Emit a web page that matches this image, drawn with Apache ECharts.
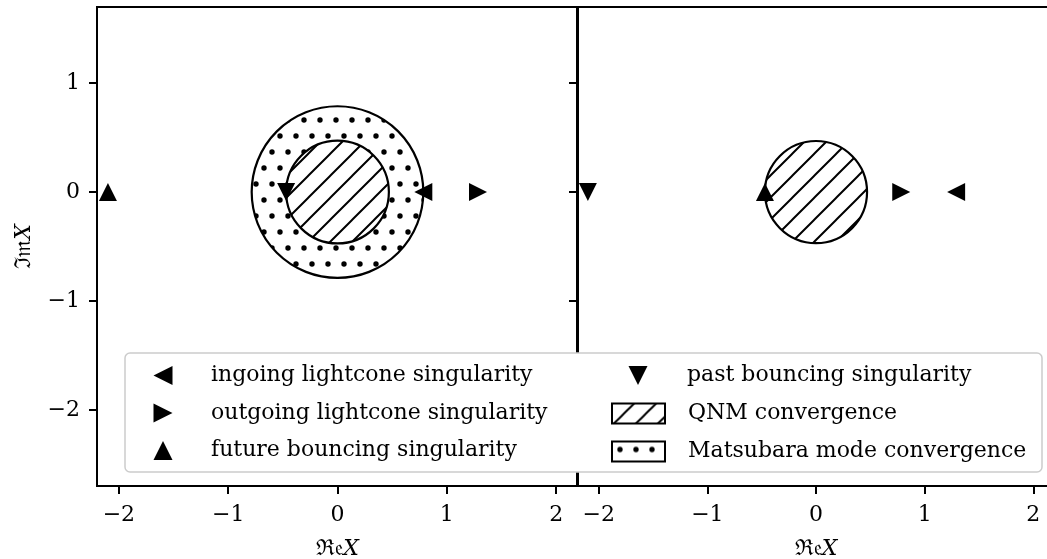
<!DOCTYPE html>
<html><head><meta charset="utf-8">
<script src="https://cdn.jsdelivr.net/npm/echarts@6/dist/echarts.min.js"></script>
<style>html,body{margin:0;padding:0;background:#fff}#c{width:1047px;height:559px}</style>
</head><body><div id="c"></div>
<script>
// ---- data ----
const xTicks = [-2, -1, 0, 1, 2];
const yTicks = [-2, -1, 0, 1];
const xRange = [-2.2, 2.2];
const yRange = [-2.7, 1.7];
// marker positions on the real axis (imaginary part 0): [left panel, right panel]
const ingoingX = [0.785, 1.29];
const outgoingX = [1.285, 0.785];
const futureX = [-2.1, -0.47];
const pastX = [-0.47, -2.1];
const markerY = [0, 0];
// convergence discs: radius, centered at origin: [left panel, right panel]
const qnmR = [0.47, 0.47];
const matsubaraR = [0.785]; // left panel only

const nIn = 'ingoing lightcone singularity';
const nOut = 'outgoing lightcone singularity';
const nFut = 'future bouncing singularity';
const nPast = 'past bouncing singularity';
const nQNM = 'QNM convergence';
const nMat = 'Matsubara mode convergence';

// ---- patterns ----
function hatchPattern() {
  const s = 22, c = document.createElement('canvas');
  c.width = s; c.height = s;
  const g = c.getContext('2d');
  g.fillStyle = '#fff'; g.fillRect(0, 0, s, s);
  g.strokeStyle = '#000'; g.lineWidth = 2;
  g.beginPath();
  g.moveTo(-2, 2); g.lineTo(2, -2);
  g.moveTo(0, s); g.lineTo(s, 0);
  g.moveTo(s - 2, s + 2); g.lineTo(s + 2, s - 2);
  g.stroke();
  return { image: c, repeat: 'repeat' };
}
function dotPattern() {
  const w = 16, h = 32, c = document.createElement('canvas');
  c.width = w; c.height = h;
  const g = c.getContext('2d');
  g.fillStyle = '#fff'; g.fillRect(0, 0, w, h);
  g.fillStyle = '#000';
  [[8, 8], [0, 24], [16, 24]].forEach(p => { g.beginPath(); g.arc(p[0], p[1], 2.7, 0, Math.PI * 2); g.fill(); });
  return { image: c, repeat: 'repeat' };
}
const hatch = hatchPattern();
const dots = dotPattern();

const FONT = 'DejaVu Serif';
const FS = 22;
const fmt = v => v < 0 ? '\u2212' + (-v) : String(v);

function disc(pattern) {
  return function (params, api) {
    const c = api.coord([api.value(0), api.value(1)]);
    const r = api.size([api.value(2), 0])[0];
    return { type: 'circle', shape: { cx: c[0], cy: c[1], r: r },
      style: { fill: pattern, stroke: '#000', lineWidth: 2.2 } };
  };
}
function tri(name, xs, panel, rot) {
  return { type: 'scatter', name: name, xAxisIndex: panel, yAxisIndex: panel,
    symbol: 'triangle', symbolSize: 18, symbolRotate: rot, z: 5,
    itemStyle: { color: '#000', opacity: 1 }, data: [[xs[panel], markerY[panel]]] };
}

const nameRich = { a: { fontFamily: FONT, fontSize: FS, color: '#000' }, b: { fontFamily: FONT, fontSize: FS, fontStyle: 'italic', color: '#000' } };
function xAxis(gi) {
  return { type: 'value', gridIndex: gi, min: xRange[0], max: xRange[1],
    name: '{a|\u211C\uD835\uDD22}{b|X}', nameLocation: 'middle', nameGap: 52,
    nameTextStyle: { rich: nameRich },
    axisLine: { show: false, onZero: false }, splitLine: { show: false },
    axisTick: { customValues: xTicks, length: 8, lineStyle: { color: '#000', width: 2 } },
    axisLabel: { customValues: xTicks, formatter: fmt, margin: 18, color: '#000', fontFamily: FONT, fontSize: FS } };
}
function yAxis(gi, labels) {
  const a = { type: 'value', gridIndex: gi, min: yRange[0], max: yRange[1],
    axisLine: { show: false, onZero: false }, splitLine: { show: false },
    axisTick: { customValues: yTicks, length: 8, lineStyle: { color: '#000', width: 2 } },
    axisLabel: { show: labels, customValues: yTicks, formatter: fmt, margin: 17, color: '#000', fontFamily: FONT, fontSize: FS } };
  if (labels) {
    a.name = '{a|\u2111\uD835\uDD2A}{b|X}';
    a.nameLocation = 'middle'; a.nameGap = 62; a.nameRotate = 90;
    a.nameTextStyle = { rich: nameRich };
  }
  return a;
}

const rectIcon = 'path://M0,0H53V20H0Z';
const iconLeft = 'path://M2,0L0,1L2,2Z';
const iconRight = 'path://M0,0L2,1L0,2Z';
const iconUp = 'path://M1,0L2,2L0,2Z';
const iconDown = 'path://M0,0L2,0L1,2Z';
const blackItem = { color: '#000', opacity: 1 };
const legendText = pad => ({ fontFamily: FONT, fontSize: FS, color: '#000', lineHeight: 20, padding: [0, 0, 0, pad] });
const legendBase = { orient: 'vertical', padding: 0, selectedMode: false };

const option = {
  animation: false,
  backgroundColor: '#fff',
  grid: [
    { left: 97, top: 7, width: 481, height: 479, show: true, borderColor: '#000', borderWidth: 2, outerBoundsMode: 'none', containLabel: false },
    { left: 577, top: 7, width: 478, height: 479, show: true, borderColor: '#000', borderWidth: 2, outerBoundsMode: 'none', containLabel: false }
  ],
  xAxis: [xAxis(0), xAxis(1)],
  yAxis: [yAxis(0, true), yAxis(1, false)],
  legend: [
    Object.assign({}, legendBase, { left: 153.5, top: 364.5, itemWidth: 19, itemHeight: 19, itemGap: 15.5,
      textStyle: legendText(33.5), data: [
        { name: nIn, icon: iconLeft, itemStyle: blackItem },
        { name: nOut, icon: iconRight, itemStyle: blackItem },
        { name: nFut, icon: iconUp, itemStyle: blackItem }] }),
    Object.assign({}, legendBase, { left: 628.5, top: 364.5, itemWidth: 19, itemHeight: 19, itemGap: 15.5,
      textStyle: legendText(34.5), data: [{ name: nPast, icon: iconDown, itemStyle: blackItem }] }),
    Object.assign({}, legendBase, { left: 611, top: 402.5, itemWidth: 53, itemHeight: 20, itemGap: 16,
      textStyle: legendText(18), data: [
      { name: nQNM, icon: rectIcon, itemStyle: { color: hatch, borderColor: '#000', borderWidth: 2 } },
      { name: nMat, icon: rectIcon, itemStyle: { color: dots, borderColor: '#000', borderWidth: 2 } }] })
  ],
  graphic: [{ type: 'rect', z: 3, shape: { x: 125, y: 353, width: 917, height: 119, r: 5 },
    style: { fill: '#fff', stroke: '#cccccc', lineWidth: 1.5 } }],
  series: [
    { type: 'custom', name: nMat, xAxisIndex: 0, yAxisIndex: 0, z: 2, encode: { x: 0, y: 1 },
      renderItem: disc(dots), data: [[0, 0, matsubaraR[0]]] },
    { type: 'custom', name: nQNM, xAxisIndex: 0, yAxisIndex: 0, z: 3, encode: { x: 0, y: 1 },
      renderItem: disc(hatch), data: [[0, 0, qnmR[0]]] },
    { type: 'custom', name: nQNM, xAxisIndex: 1, yAxisIndex: 1, z: 3, encode: { x: 0, y: 1 },
      renderItem: disc(hatch), data: [[0, 0, qnmR[1]]] },
    tri(nIn, ingoingX, 0, 90), tri(nIn, ingoingX, 1, 90),
    tri(nOut, outgoingX, 0, -90), tri(nOut, outgoingX, 1, -90),
    tri(nFut, futureX, 0, 0), tri(nFut, futureX, 1, 0),
    tri(nPast, pastX, 0, 180), tri(nPast, pastX, 1, 180)
  ]
};
const chart = echarts.init(document.getElementById('c'), null, { renderer: 'canvas' });
chart.setOption(option);
</script></body></html>
